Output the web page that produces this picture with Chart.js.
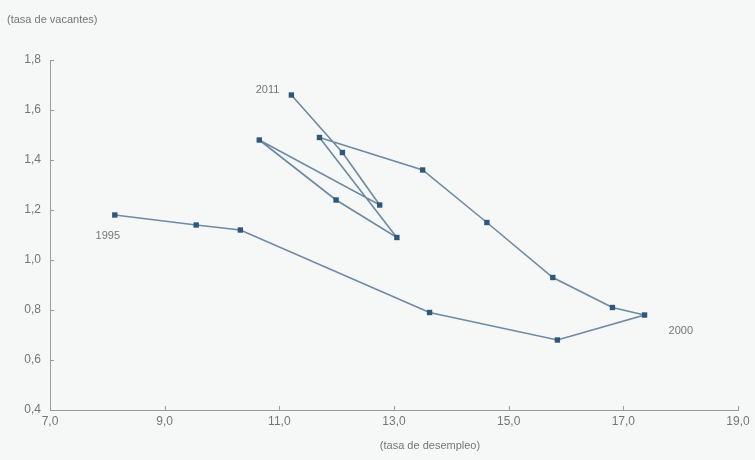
<!DOCTYPE html>
<html lang="es">
<head>
<meta charset="UTF-8">
<title>Tasa de vacantes y tasa de desempleo</title>
<script src="https://cdn.jsdelivr.net/npm/chart.js@4.4.0/dist/chart.umd.min.js"></script>
<style>
  html, body { margin: 0; padding: 0; background: #f6f8f7; }
  #wrap { width: 755px; height: 460px; }
</style>
</head>
<body>
<div id="wrap"><canvas id="chart" width="755" height="460"></canvas></div>
<script>
  // data, one point per year
  const years     = [1995, 1996, 1997, 1998, 1999, 2000, 2001, 2002, 2003, 2004, 2005, 2006, 2007, 2008, 2009, 2010, 2011];
  const desempleo = [8.13, 9.55, 10.32, 13.62, 15.85, 17.37, 16.81, 15.77, 14.62, 13.50, 11.70, 13.05, 11.99, 10.65, 12.75, 12.10, 11.21];
  const vacantes  = [1.18, 1.14, 1.12, 0.79, 0.68, 0.78, 0.81, 0.93, 1.15, 1.36, 1.49, 1.09, 1.24, 1.48, 1.22, 1.43, 1.66];

  const xTicks = [7, 9, 11, 13, 15, 17, 19];
  const yTicks = [0.4, 0.6, 0.8, 1.0, 1.2, 1.4, 1.6, 1.8];
  const labeledYears = [1995, 2000, 2011];

  const textColor = '#757575';
  const axisColor = '#9a9a9a';
  const fontFamily = '"Liberation Sans", Arial, sans-serif';

  const comma = v => Number(v).toFixed(1).replace('.', ',');

  // where each year label sits relative to its point
  const labelPos = {
    1995: { dx: -7,  dy: 21, align: 'center' },
    2000: { dx: 24,  dy: 16, align: 'left' },
    2011: { dx: -12, dy: -5, align: 'right' }
  };

  const extras = {
    id: 'extras',
    afterDraw(chart) {
      const ctx = chart.ctx;
      const xs = chart.scales.x, ys = chart.scales.y;
      ctx.save();

      // small tick marks pointing into the plot
      ctx.strokeStyle = axisColor;
      ctx.lineWidth = 1;
      ctx.beginPath();
      xs.ticks.forEach(t => {
        const px = Math.round(xs.getPixelForValue(t.value)) + 0.5;
        ctx.moveTo(px, ys.bottom);
        ctx.lineTo(px, ys.bottom - 4);
      });
      ys.ticks.forEach(t => {
        const py = Math.round(ys.getPixelForValue(t.value)) + 0.5;
        ctx.moveTo(xs.left, py);
        ctx.lineTo(xs.left + 4, py);
      });
      ctx.stroke();

      ctx.fillStyle = textColor;
      ctx.font = '11px ' + fontFamily;
      ctx.textBaseline = 'middle';

      // year labels
      const meta = chart.getDatasetMeta(0);
      labeledYears.forEach(y => {
        const i = years.indexOf(y);
        const pt = meta.data[i];
        const p = labelPos[y];
        ctx.textAlign = p.align;
        ctx.fillText(String(y), pt.x + p.dx, pt.y + p.dy);
      });

      // axis captions
      ctx.textAlign = 'left';
      ctx.fillText('(tasa de vacantes)', 7, 20);
      ctx.textAlign = 'center';
      ctx.fillText('(tasa de desempleo)', 430, 446);

      ctx.restore();
    }
  };

  const points = desempleo.map((x, i) => ({ x: x, y: vacantes[i] }));

  new Chart(document.getElementById('chart').getContext('2d'), {
    type: 'scatter',
    data: {
      datasets: [{
        data: points,
        showLine: true,
        borderColor: '#6d89a3',
        borderWidth: 1.6,
        pointStyle: 'rect',
        pointRadius: 3.8,
        pointBackgroundColor: '#2f5779',
        pointBorderColor: '#2f5779',
        pointBorderWidth: 0,
        tension: 0
      }]
    },
    options: {
      responsive: false,
      animation: false,
      layout: { padding: { top: 60, right: 17, left: 0, bottom: 0 } },
      plugins: {
        legend: { display: false },
        tooltip: { enabled: false }
      },
      scales: {
        x: {
          type: 'linear',
          min: 7, max: 19,
          afterBuildTicks: s => { s.ticks = xTicks.map(v => ({ value: v })); },
          afterFit: s => { s.height = 50; },
          grid: { display: false, drawTicks: false },
          border: { display: true, color: axisColor, width: 1 },
          ticks: {
            padding: 4,
            color: textColor,
            font: { family: fontFamily, size: 12 },
            callback: v => comma(v),
            maxRotation: 0
          }
        },
        y: {
          type: 'linear',
          min: 0.4, max: 1.8,
          afterBuildTicks: s => { s.ticks = yTicks.map(v => ({ value: v })); },
          afterFit: s => { s.width = 50; },
          grid: { display: false, drawTicks: false },
          border: { display: true, color: axisColor, width: 1 },
          ticks: {
            padding: 9,
            color: textColor,
            font: { family: fontFamily, size: 12 },
            callback: v => comma(v)
          }
        }
      }
    },
    plugins: [extras]
  });
</script>
</body>
</html>
